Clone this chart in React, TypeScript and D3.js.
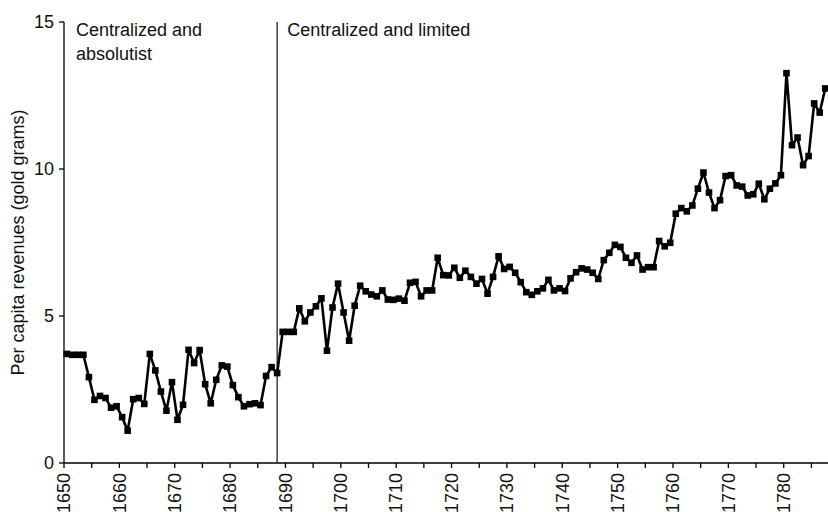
import React from "react";
import * as d3 from "d3";

// Per capita revenues, gold grams, one value per year from 1650
const startYear = 1650;
const revenues: number[] = [
  3.71, 3.68, 3.68, 3.68, 2.92, 2.15, 2.28, 2.21, 1.88, 1.93,
  1.56, 1.10, 2.17, 2.21, 2.01, 3.71, 3.15, 2.43, 1.78, 2.75,
  1.47, 1.98, 3.85, 3.40, 3.84, 2.68, 2.03, 2.83, 3.32, 3.28,
  2.65, 2.24, 1.93, 2.00, 2.03, 1.97, 2.96, 3.26, 3.06, 4.46,
  4.46, 4.46, 5.26, 4.82, 5.12, 5.33, 5.60, 3.82, 5.29, 6.10,
  5.12, 4.16, 5.35, 6.03, 5.84, 5.73, 5.67, 5.87, 5.56, 5.55,
  5.59, 5.52, 6.13, 6.16, 5.67, 5.87, 5.87, 6.98, 6.39, 6.38,
  6.64, 6.30, 6.54, 6.33, 6.10, 6.26, 5.76, 6.33, 7.03, 6.60,
  6.67, 6.47, 6.15, 5.81, 5.72, 5.84, 5.94, 6.23, 5.87, 5.94,
  5.85, 6.28, 6.49, 6.62, 6.58, 6.47, 6.26, 6.90, 7.15, 7.42,
  7.35, 6.98, 6.81, 7.06, 6.58, 6.66, 6.66, 7.55, 7.37, 7.49,
  8.48, 8.67, 8.56, 8.76, 9.33, 9.88, 9.20, 8.67, 8.94, 9.76,
  9.79, 9.44, 9.40, 9.10, 9.14, 9.50, 8.97, 9.33, 9.51, 9.79,
  13.26, 10.81, 11.07, 10.13, 10.44, 12.23, 11.92, 12.74,
];

const yTicks: number[] = [0, 5, 10, 15];
const minorYearTicks: number[] = d3.range(1650, 1790, 5);
const labelYears: number[] = d3.range(1650, 1790, 10);

const regimeBreakYear = 1688;
const regimeLabels: { lines: string[]; year: number }[] = [
  { lines: ["Centralized and", "absolutist"], year: 1650 },
  { lines: ["Centralized and limited"], year: 1688 },
];

const W = 828;
const H = 512;
const FONT = "'Liberation Sans', Arial, Helvetica, sans-serif";
const FS = 18;

export default function App() {
  const x = d3.scaleLinear().domain([1650, 1788]).range([64, 828]);
  const y = d3.scaleLinear().domain([0, 15]).range([463, 22]);

  const points = revenues.map((v, i) => ({ year: startYear + i, v }));
  // each year sits in the middle of its category slot
  const px = (yr: number) => x(yr + 0.5);

  const line = d3
    .line<{ year: number; v: number }>()
    .x((d) => px(d.year))
    .y((d) => y(d.v));

  const x0 = x(1650);
  const yBase = y(0);
  const breakX = px(regimeBreakYear);

  return (
    <svg
      width={W}
      height={H}
      viewBox={`0 0 ${W} ${H}`}
      style={{ position: "absolute", left: 0, top: 0, background: "#fff" }}
      fontFamily={FONT}
    >
      <rect width={W} height={H} fill="#fff" />

      {/* y axis */}
      <line x1={x0} x2={x0} y1={y(15)} y2={yBase} stroke="#000" strokeWidth={1.3} />
      {yTicks.map((t) => (
        <g key={t}>
          <line x1={x0 - 5} x2={x0} y1={y(t)} y2={y(t)} stroke="#000" strokeWidth={1.3} />
          <text
            x={x0 - 10}
            y={y(t)}
            dy="0.35em"
            textAnchor="end"
            fontSize={FS}
            fill="#111"
          >
            {t}
          </text>
        </g>
      ))}
      <text
        transform={`translate(18,${(y(0) + y(15)) / 2}) rotate(-90)`}
        textAnchor="middle"
        dy="0.35em"
        fontSize={FS}
        fill="#111"
      >
        Per capita revenues (gold grams)
      </text>

      {/* x axis */}
      <line x1={x0} x2={W} y1={yBase} y2={yBase} stroke="#000" strokeWidth={1.3} />
      {minorYearTicks.map((t) => (
        <line
          key={t}
          x1={x(t)}
          x2={x(t)}
          y1={yBase}
          y2={yBase + 5}
          stroke="#000"
          strokeWidth={1.3}
        />
      ))}
      {labelYears.map((t) => (
        <text
          key={t}
          transform={`translate(${x(t)},${yBase + 10}) rotate(-90)`}
          textAnchor="end"
          dy="0.35em"
          fontSize={FS}
          fill="#111"
        >
          {t}
        </text>
      ))}

      {/* regime break */}
      <line
        x1={breakX}
        x2={breakX}
        y1={y(15)}
        y2={yBase}
        stroke="#222"
        strokeWidth={1.3}
      />
      {regimeLabels.map((r) => (
        <text
          key={r.year}
          x={r.year === 1650 ? x0 + 12 : breakX + 10}
          y={y(15) + 14}
          fontSize={FS}
          fill="#111"
        >
          {r.lines.map((l, i) => (
            <tspan
              key={i}
              x={r.year === 1650 ? x0 + 12 : breakX + 10}
              dy={i === 0 ? 0 : 24}
            >
              {l}
            </tspan>
          ))}
        </text>
      ))}

      {/* series */}
      <path d={line(points) ?? ""} fill="none" stroke="#000" strokeWidth={2.6} strokeLinejoin="round" />
      {points.map((p) => (
        <rect
          key={p.year}
          x={px(p.year) - 3.3}
          y={y(p.v) - 3.3}
          width={6.6}
          height={6.6}
          fill="#000"
        />
      ))}
    </svg>
  );
}
